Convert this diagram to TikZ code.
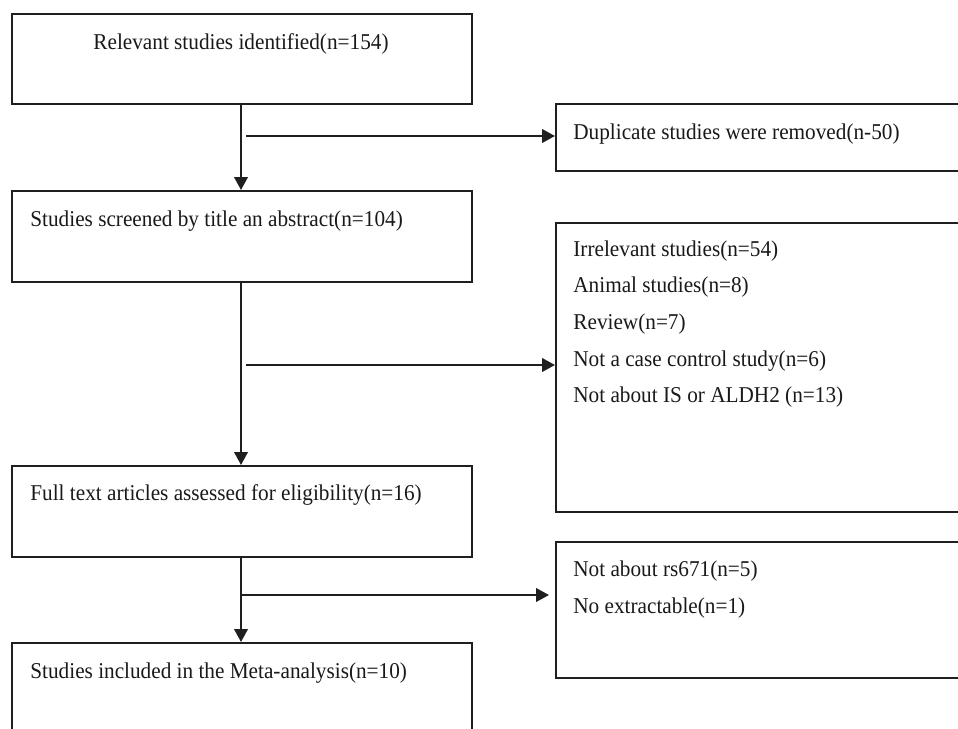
\documentclass[tikz,border=0pt]{standalone}
\usepackage{fontspec}
\setmainfont[FakeStretch=0.94]{Liberation Serif}
\usetikzlibrary{arrows.meta}
\begin{document}
\begin{tikzpicture}[x=0.5pt,y=-0.5pt,
  box/.style={draw=black!88,line width=0.75pt,rectangle,inner sep=0pt,anchor=north west},
  txt/.style={anchor=base west,inner sep=0pt,font=\fontsize{11.3}{13.5}\selectfont,text=black!90},
  conn/.style={draw=black!88,line width=1pt},
  arr/.style={conn,-{Triangle[length=6.5pt,width=6.8pt]}}]
\useasboundingbox (0,0) rectangle (958,728);
\clip (0,0) rectangle (958,728);
% boxes
\node[box,minimum width=230pt,minimum height=45pt] (b1) at (11,13) {};
\node[box,minimum width=210pt,minimum height=33.5pt] (b2) at (555,103) {};
\node[box,minimum width=230pt,minimum height=45.5pt] (b3) at (11,190) {};
\node[box,minimum width=210pt,minimum height=144.5pt] (b4) at (555,222) {};
\node[box,minimum width=230pt,minimum height=45.5pt] (b5) at (11,465) {};
\node[box,minimum width=210pt,minimum height=68pt] (b6) at (555,541) {};
\node[box,minimum width=230pt,minimum height=60pt] (b7) at (11,642) {};
% texts
\node[txt,anchor=base] (t1) at (241,49) {Relevant studies identified(n=154)};
\node[txt] (t2) at (573,139) {Duplicate studies were removed(n-50)};
\node[txt] (t3) at (30,226) {Studies screened by title an abstract(n=104)};
\node[txt] (t4a) at (573,256) {Irrelevant studies(n=54)};
\node[txt] (t4b) at (573,292) {Animal studies(n=8)};
\node[txt] (t4c) at (573,329) {Review(n=7)};
\node[txt] (t4d) at (573,366) {Not a case control study(n=6)};
\node[txt] (t4e) at (573,402) {Not about IS or ALDH2 (n=13)};
\node[txt] (t5) at (30,500) {Full text articles assessed for eligibility(n=16)};
\node[txt] (t6a) at (573,576) {Not about rs671(n=5)};
\node[txt] (t6b) at (573,613) {No extractable(n=1)};
\node[txt] (t7) at (30,678) {Studies included in the Meta-analysis(n=10)};
% connectors
\coordinate (h1) at (246,136);
\coordinate (h2) at (246,365);
\coordinate (h3) at (242,595);
\draw[arr] (b1.south -| 241,0) -- (b3.north -| 241,0);
\draw[arr] (h1) -- (h1 -| b2.west);
\draw[arr] (b3.south -| 241,0) -- (b5.north -| 241,0);
\draw[arr] (h2) -- (h2 -| b4.west);
\draw[arr] (b5.south -| 241,0) -- (b7.north -| 241,0);
\draw[arr,shorten >=3pt] (h3) -- (h3 -| b6.west);
\end{tikzpicture}
\end{document}
